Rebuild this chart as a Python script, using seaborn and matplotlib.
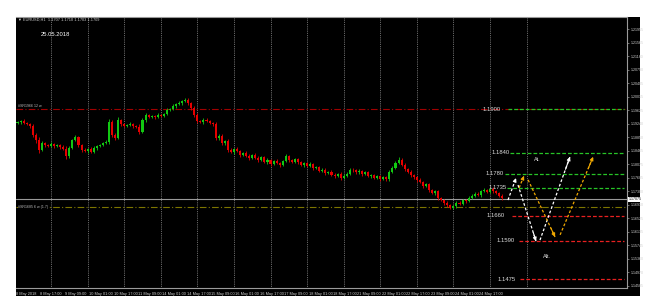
import numpy as np
import matplotlib
matplotlib.use("Agg")
import matplotlib.pyplot as plt
from matplotlib.patches import Rectangle
import seaborn as sns

# ---------------- data ----------------
header_text = "\u25bc EURUSD,H1  1.1707 1.1710 1.1703 1.1709"
date_text = "25.05.2018"

first_open = 11925
close_pips = [
    11929, 11932, 11926, 11923, 11918, 11892, 11877, 11849, 11869, 11863,
    11860, 11866, 11860, 11863, 11857, 11852, 11832, 11854, 11877, 11886,
    11863, 11849, 11846, 11852, 11843, 11854, 11860, 11863, 11869, 11872,
    11929, 11892, 11883, 11935, 11923, 11918, 11920, 11923, 11918, 11915,
    11900, 11935, 11949, 11943, 11946, 11943, 11949, 11946, 11952, 11963,
    11966, 11975, 11981, 11983, 11989, 11992, 11983, 11969, 11949, 11932,
    11929, 11935, 11932, 11926, 11923, 11883, 11890, 11868, 11874, 11849,
    11843, 11852, 11846, 11834, 11840, 11832, 11826, 11835, 11826, 11820,
    11828, 11814, 11820, 11808, 11817, 11812, 11806, 11817, 11830, 11820,
    11814, 11822, 11814, 11806, 11811, 11803, 11808, 11797, 11800, 11789,
    11792, 11783, 11786, 11777, 11774, 11780, 11768, 11774, 11781, 11792,
    11791, 11784, 11788, 11780, 11784, 11774, 11776, 11768, 11774, 11766,
    11770, 11764, 11786, 11797, 11812, 11820, 11806, 11795, 11786, 11777,
    11770, 11763, 11757, 11746, 11750, 11734, 11725, 11730, 11711, 11705,
    11697, 11691, 11682, 11688, 11697, 11694, 11705, 11702, 11712, 11717,
    11723, 11720, 11731, 11734, 11728, 11737, 11731, 11725, 11717, 11711,
]
wick_up_pips = [
    4, 3, 5, 3, 4, 6, 4, 8, 5, 3,
    4, 5, 3, 4, 3, 5, 7, 6, 4, 5,
    3, 4, 5, 3, 4, 5, 3, 4, 3, 5,
    8, 6, 4, 7, 3, 4, 3, 5, 4, 3,
    9, 5, 6, 4, 3, 4, 5, 3, 4, 6,
    4, 5, 3, 6, 4, 7, 5, 4, 6, 5,
    3, 4, 5, 3, 4, 6, 5, 4, 3, 5,
    4, 3, 5, 4, 3, 5, 4, 3, 5, 4,
    3, 4, 5, 3, 4, 5, 3, 4, 6, 3,
    4, 3, 5, 4, 3, 4, 5, 3, 4, 3,
    5, 4, 3, 4, 5, 3, 4, 5, 3, 6,
    4, 3, 5, 4, 3, 4, 5, 3, 4, 3,
    5, 4, 6, 5, 4, 9, 5, 4, 3, 4,
    3, 4, 5, 3, 4, 5, 3, 4, 5, 3,
    4, 6, 3, 4, 5, 6, 4, 3, 5, 4,
    5, 4, 3, 6, 4, 3, 5, 4, 3, 4,
]
wick_down_pips = [
    3, 5, 4, 4, 6, 5, 7, 9, 4, 5,
    3, 4, 6, 3, 5, 4, 8, 5, 3, 4,
    5, 6, 4, 5, 3, 4, 5, 3, 4, 3,
    5, 7, 5, 4, 6, 3, 4, 3, 5, 4,
    6, 4, 5, 3, 4, 5, 3, 4, 3, 4,
    3, 4, 5, 3, 4, 3, 5, 6, 7, 5,
    4, 5, 3, 4, 6, 7, 5, 6, 4, 5,
    3, 5, 4, 6, 3, 4, 5, 3, 4, 5,
    4, 3, 5, 4, 3, 4, 6, 3, 4, 5,
    3, 4, 5, 3, 6, 4, 3, 5, 4, 3,
    4, 5, 3, 4, 5, 3, 6, 4, 3, 4,
    5, 3, 4, 5, 3, 4, 5, 3, 4, 5,
    3, 4, 5, 4, 3, 5, 4, 6, 4, 5,
    4, 5, 3, 6, 4, 5, 4, 6, 5, 4,
    5, 6, 4, 3, 5, 4, 3, 5, 4, 3,
    4, 3, 5, 4, 3, 4, 5, 3, 4, 5,
]
bar_hours = 2  # each candle spans two trading hours

time_labels = ["8 May 2018", "8 May 17:00", "9 May 09:00", "10 May 01:00", "10 May 17:00",
               "11 May 09:00", "14 May 01:00", "14 May 17:00", "15 May 09:00", "16 May 01:00",
               "16 May 17:00", "17 May 09:00", "18 May 01:00", "18 May 17:00", "21 May 09:00",
               "22 May 01:00", "22 May 17:00", "23 May 09:00", "24 May 01:00", "24 May 17:00"]
time_label_hours = [0, 16, 32, 48, 64, 80, 96, 112, 128, 144, 160, 176, 192, 208, 224,
                    240, 256, 272, 288, 304]
day_separator_hours = [23, 47, 71, 95, 119, 143, 167, 191, 215, 239, 263, 287, 311, 335]

price_ticks = [1.14585, 1.14970, 1.15360, 1.15745, 1.16135, 1.16525, 1.16910, 1.17300,
               1.17685, 1.18075, 1.18465, 1.18850, 1.19240, 1.19625, 1.20015, 1.20405,
               1.20790, 1.21180, 1.21565, 1.21955]
price_tick_labels = ["1.14585", "1.14970", "1.15360", "1.15745", "1.16135", "1.16525", "1.16910",
                     "1.17300", "1.17685", "1.18075", "1.18465", "1.18850", "1.19240", "1.19625",
                     "1.20015", "1.20405", "1.20790", "1.21180", "1.21565", "1.21955"]

sr_upper_price = 1.1966
sr_lower_price = 1.1685
sr_upper_label = "#SR1966 12 w"
sr_lower_label = "#SR1685 6 w (1.7)"
bid_price = 1.1707
bid_label = "1.17075"

level_labels = ["1.1900", "1.1840", "1.1780", "1.1735", "1.1660", "1.1590", "1.1475"]
level_prices = [1.1966, 1.1840, 1.1780, 1.1740, 1.1660, 1.1588, 1.1478]
level_start_hours = [323, 324, 321, 322, 325.5, 330, 331]
level_label_hours = [306, 312, 308, 310, 309, 315, 316]
level_colors = ["#27c427", "#27c427", "#27c427", "#27c427", "#e82020", "#e82020", "#e82020"]
level_end_hour = 399

# forecast arrows (start hour, start price, end hour, end price)
white_t0 = [322.8, 329.4, 343.8]
white_p0 = [1.1705, 1.1748, 1.1590]
white_t1 = [328.1, 341.2, 363.5]
white_p1 = [1.1768, 1.1587, 1.1829]
gold_t0 = [330.1, 336.0, 357.0]
gold_p0 = [1.1740, 1.1763, 1.1605]
gold_t1 = [333.3, 353.7, 378.7]
gold_p1 = [1.1774, 1.1599, 1.1829]

scenario_texts = ["At.", "Alt."]
scenario_hours = [341.9, 348.4]
scenario_prices = [1.1821, 1.1544]

# ---------------- style ----------------
sns.set_style("dark")
plt.rcParams['font.family'] = ['Liberation Sans', 'DejaVu Sans']

W, H = 650, 302
fig = plt.figure(figsize=(6.5, 3.02), dpi=100, facecolor="white")


def frac(x0, y0, x1, y1):
    return [x0 / W, 1 - y1 / H, (x1 - x0) / W, (y1 - y0) / H]


bg = Rectangle((16 / W, 1 - 296 / H), (640 - 16) / W, (296 - 17) / H,
               transform=fig.transFigure, facecolor="black", edgecolor="none", zorder=-5)
fig.patches.append(bg)
ax = fig.add_axes(frac(16, 17, 627, 288))
ax.set_zorder(3)
ax.set_facecolor("black")

closes = np.array(close_pips) / 10000.0
opens = np.concatenate([[first_open / 10000.0], closes[:-1]])
highs = np.maximum(opens, closes) + np.array(wick_up_pips) / 10000.0
lows = np.minimum(opens, closes) - np.array(wick_down_pips) / 10000.0
centers = np.arange(len(closes)) * bar_hours + bar_hours / 2
colors = np.where(closes >= opens, "#12c812", "#e60000")

# day separators
ax.vlines(day_separator_hours, 1.14, 1.23, colors="#8c8c8c", linestyles=(0, (1, 1.2)), lw=0.6, zorder=1)

# horizontal reference lines
ax.axhline(sr_upper_price, color="#a00000", ls=(0, (6, 2, 1, 2)), lw=0.8, zorder=1)
ax.axhline(sr_lower_price, color="#7d7500", ls=(0, (6, 2, 1, 2)), lw=0.8, zorder=1)
ax.axhline(bid_price, color="#9a9a9a", lw=0.8, zorder=1)

# candles
ax.vlines(centers, lows, highs, colors=colors, lw=0.6, zorder=3)
body = closes - opens
body = np.where(np.abs(body) < 0.00008, 0.00008, body)
ax.bar(centers, body, bottom=opens, width=1.35, color=colors, linewidth=0, zorder=4)

# levels
for lab, p, ts, tl, c in zip(level_labels, level_prices, level_start_hours, level_label_hours, level_colors):
    ax.plot([ts, level_end_hour], [p, p], color=c, ls=(0, (3, 1.6)), lw=0.9, zorder=5)
    ax.text(tl, p, lab, color="#dcdcdc", fontsize=4.2, va="center", ha="left", zorder=6)


def arrow(t0, p0, t1, p1, c):
    ax.plot([t0, t1], [p0, p1], color=c, ls=(0, (2.2, 1.6)), lw=0.9, zorder=6)
    ax.annotate("", xy=(t1, p1), xytext=(t0 + 0.85 * (t1 - t0), p0 + 0.85 * (p1 - p0)),
                arrowprops=dict(arrowstyle="-|>", color=c, lw=0.8, shrinkA=0, shrinkB=0,
                                mutation_scale=5), zorder=7)


for a in zip(white_t0, white_p0, white_t1, white_p1):
    arrow(*a, "white")
for a in zip(gold_t0, gold_p0, gold_t1, gold_p1):
    arrow(*a, "#f0a800")

for s, t, p in zip(scenario_texts, scenario_hours, scenario_prices):
    ax.text(t, p, s, color="#dcdcdc", fontsize=4, ha="center", va="center", zorder=6)

ax.text(1.5, sr_upper_price + 0.0003, sr_upper_label, color="#bbbbbb", fontsize=2.6, va="bottom", ha="left")
ax.text(1.5, sr_lower_price, sr_lower_label, color="#bbbbbb", fontsize=2.6, va="center", ha="left",
        bbox=dict(facecolor="black", edgecolor="none", pad=0.2))

# axes limits / ticks
ax.set_xlim(0, 400.9)
ax.set_ylim(1.14525, 1.22303)
ax.yaxis.tick_right()
ax.set_yticks(price_ticks)
ax.set_yticklabels(price_tick_labels)
ax.tick_params(axis="y", labelsize=2.6, labelcolor="#d0d0d0", color="#9a9a9a", length=1.5, width=0.5, pad=1)
ax.set_xticks(time_label_hours)
ax.set_xticklabels(time_labels, ha="left")
ax.tick_params(axis="x", labelsize=2.8, labelcolor="#d0d0d0", color="#9a9a9a", length=2, width=0.5, pad=1.2)
ax.grid(False)
for side in ["top", "right", "bottom"]:
    ax.spines[side].set_visible(True)
    ax.spines[side].set_color("#9a9a9a")
    ax.spines[side].set_linewidth(0.8)
ax.spines["left"].set_visible(False)

ax.text(1.003, bid_price, bid_label, transform=ax.get_yaxis_transform(), fontsize=2.6, color="black",
        va="center", ha="left", bbox=dict(facecolor="white", edgecolor="none", pad=0.3), zorder=8,
        clip_on=False)

fig.text(18 / W, 1 - 20 / H, header_text, color="#d0d0d0", fontsize=2.8, va="center", ha="left", zorder=10)
fig.text(41 / W, 1 - 34 / H, date_text, color="white", fontsize=4.2, va="center", ha="left", zorder=10)

fig.savefig("out.png", dpi=100, facecolor="white")
